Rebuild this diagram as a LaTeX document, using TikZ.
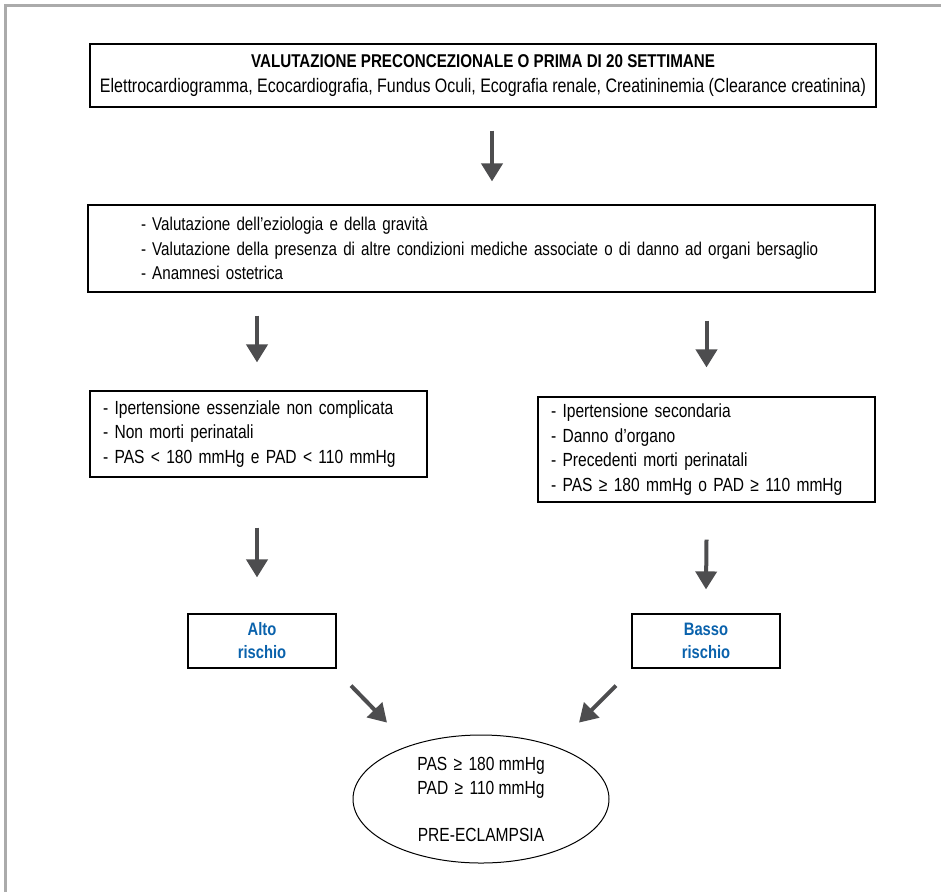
\documentclass[tikz,border=0pt]{standalone}
\usepackage{fontspec}
\setmainfont{Liberation Sans}[FakeStretch=0.82]
\usetikzlibrary{arrows.meta,shapes.geometric,calc}
\definecolor{arrowgray}{HTML}{4D4D4F}
\definecolor{riskblue}{HTML}{0A62AC}
\definecolor{framegray}{HTML}{ABABAB}

\begin{document}
\begin{tikzpicture}[x=1pt,y=-1pt,
  every node/.style={font=\fontsize{19}{24.5}\selectfont},
  box/.style={draw, line width=1.2pt, inner sep=0pt},
  listbox/.style={box, align=left},
  fatarrow/.style={draw=arrowgray, line width=4pt, -{Triangle[length=18pt,width=21pt]}},
  riskbox/.style={box, minimum width=148, minimum height=54, text=riskblue,
    font=\fontsize{18}{23}\selectfont\bfseries, align=center}]
\useasboundingbox (0,0) rectangle (941,892);
\draw[framegray, line width=3pt] (5,892) -- (5,5) -- (941,5);

% boxes
\node[box, minimum width=786, minimum height=63, align=center] (valut) at (483,75.5)
  {{\fontsize{18.5}{24.5}\selectfont\bfseries VALUTAZIONE PRECONCEZIONALE O PRIMA DI 20 SETTIMANE}\\[1pt]
   {\fontsize{19.5}{24.5}\selectfont Elettrocardiogramma, Ecocardiografia, Fundus Oculi, Ecografia renale, Creatininemia (Clearance creatinina)}};
\node[listbox, minimum width=787, minimum height=87, text width=681, font=\fontsize{18.5}{24.5}\selectfont] (eziol) at (481.5,248.5)
  {- Valutazione dell’eziologia e della gravità\\
   - Valutazione della presenza di altre condizioni mediche associate o di danno ad organi bersaglio\\
   - Anamnesi ostetrica};
\node[listbox, minimum width=337, minimum height=86, text width=311] (essen) at (258.5,434)
  {- Ipertensione essenziale non complicata\\
   - Non morti perinatali\\
   - PAS < 180 mmHg e PAD < 110 mmHg};
\node[listbox, minimum width=337, minimum height=105, text width=311] (second) at (706.5,449.5)
  {- Ipertensione secondaria\\
   - Danno d’organo\\
   - Precedenti morti perinatali\\
   - PAS ≥ 180 mmHg o PAD ≥ 110 mmHg};
\node[riskbox] (alto) at (262,641) {Alto\\rischio};
\node[riskbox] (basso) at (706,641) {Basso\\rischio};
\node[draw, ellipse, line width=1pt, inner sep=0pt, minimum width=256, minimum height=128,
  align=center] (preec) at (481,799)
  {PAS\,\,≥\,\,180 mmHg\\PAD\,\,≥\,\,110 mmHg\\[22pt]PRE-ECLAMPSIA};

% arrows
\draw[fatarrow] ($(valut.south)+(9,23)$) -- ($(eziol.north)+(10.5,-23)$);
\draw[fatarrow] ($(eziol.south -| essen.north)+(-1.5,23)$) -- ($(essen.north)+(-1.5,-28)$);
\draw[fatarrow] ($(eziol.south -| second.north)+(0,28)$) -- ($(second.north)+(0,-29)$);
\draw[fatarrow] ($(essen.south)+(-1.5,50)$) -- ($(alto.north -| essen.south)+(-1.5,-36)$);
\draw[fatarrow] ($(second.south)+(0,37)$) -- ($(basso.north)+(0,-24)$);
\draw[fatarrow] ($(alto.south)+(89,17)$) -- ($(alto.south)+(125,54)$);
\draw[fatarrow] ($(basso.south)+(-90,17)$) -- ($(basso.south)+(-127,54)$);
\end{tikzpicture}
\end{document}
